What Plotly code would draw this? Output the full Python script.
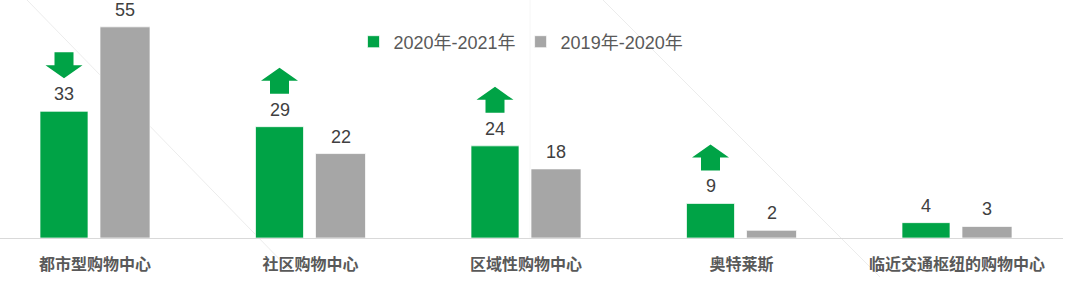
import plotly.graph_objects as go

# ---- data ----
categories = ["都市型购物中心", "社区购物中心", "区域性购物中心", "奥特莱斯", "临近交通枢纽的购物中心"]
series_2021 = [33, 29, 24, 9, 4]      # 2020年-2021年
series_2020 = [55, 22, 18, 2, 3]      # 2019年-2020年
trend_arrows = ["down", "up", "up", "up", None]
series_names = ["2020年-2021年", "2019年-2020年"]

# ---- style ----
GREEN = "#00A346"
GRAY = "#A6A6A6"
PX_PER_CAT = 215.5
PLOT_W = 1063
FIRST_CENTER_PX = 95

x_idx = list(range(len(categories)))
g_off, g_w = -55 / PX_PER_CAT, 48 / PX_PER_CAT
s_off, s_w = 5 / PX_PER_CAT, 50 / PX_PER_CAT

fig = go.Figure()
fig.add_trace(go.Bar(
    x=x_idx, y=series_2021, name=series_names[0],
    marker=dict(color=GREEN, line=dict(color="rgba(255,255,255,0.7)", width=1)),
    offset=g_off, width=g_w, hoverinfo="y+name"))
fig.add_trace(go.Bar(
    x=x_idx, y=series_2020, name=series_names[1],
    marker=dict(color=GRAY, line=dict(color="rgba(255,255,255,0.7)", width=1)),
    offset=s_off, width=s_w, hoverinfo="y+name"))

annotations = []
for i, (a, b) in enumerate(zip(series_2021, series_2020)):
    for val, off, w in ((a, g_off, g_w), (b, s_off, s_w)):
        annotations.append(dict(
            x=i + off + w / 2, y=val, xref="x", yref="y", text=str(val),
            showarrow=False, yanchor="middle", yshift=17,
            font=dict(family="Liberation Sans, Arial", size=18, color="#404040")))

shapes = []
# faint background lines (watermark)
for x0, y0, x1, y1, col in ((27, 0, 290, 270, "#ececec"), (603, 0, 880, 277, "#ececec")):
    shapes.append(dict(type="line", xref="paper", yref="paper", layer="below",
                       x0=x0 / PLOT_W, y0=1 - y0 / 238, x1=x1 / PLOT_W, y1=1 - y1 / 238,
                       line=dict(color=col, width=1)))
shapes.append(dict(type="line", xref="paper", yref="paper", layer="below",
                   x0=530 / PLOT_W, x1=530 / PLOT_W, y0=0, y1=1,
                   line=dict(color="#f6f6f6", width=1)))

# trend arrows above green bars
HW, SW, HH, SH, GAP = 18.5, 9.5, 13, 13, 33
for i, (val, d) in enumerate(zip(series_2021, trend_arrows)):
    if d is None:
        continue
    if d == "up":
        b = GAP
        path = (f"M {-SW},{b} L {SW},{b} L {SW},{b+SH} L {HW},{b+SH} "
                f"L 0,{b+SH+HH} L {-HW},{b+SH} L {-SW},{b+SH} Z")
    else:
        t = GAP  # tip
        path = (f"M 0,{t} L {HW},{t+HH} L {SW},{t+HH} L {SW},{t+HH+SH} "
                f"L {-SW},{t+HH+SH} L {-SW},{t+HH} L {-HW},{t+HH} Z")
    shapes.append(dict(type="path", xref="x", yref="y",
                       xsizemode="pixel", ysizemode="pixel",
                       xanchor=i + g_off + g_w / 2, yanchor=val,
                       path=path, fillcolor=GREEN, line=dict(width=0)))

x_left = -FIRST_CENTER_PX / PX_PER_CAT
fig.update_layout(
    width=1075, height=284,
    margin=dict(l=0, r=12, t=0, b=46),
    paper_bgcolor="white", plot_bgcolor="rgba(0,0,0,0)",
    barmode="overlay",
    showlegend=True,
    legend=dict(orientation="h", x=521 / PLOT_W, xanchor="center", y=1 - 42 / 238,
                yanchor="middle", bgcolor="rgba(0,0,0,0)",
                font=dict(family="Liberation Sans, Noto Sans CJK SC", size=18, color="#595959"),
                itemwidth=30, traceorder="normal"),
    xaxis=dict(range=[x_left, x_left + PLOT_W / PX_PER_CAT],
               tickmode="array", tickvals=x_idx, ticktext=categories,
               tickfont=dict(family="Noto Sans CJK SC", size=16, color="#595959", weight="bold"),
               showgrid=False, zeroline=False, showline=True, linecolor="#d9d9d9", linewidth=1,
               ticks="", ticklabelstandoff=12, fixedrange=True),
    yaxis=dict(range=[0, 62], visible=False, showgrid=False, zeroline=False, fixedrange=True),
    annotations=annotations,
    shapes=shapes,
)

fig.write_html("out.html")
